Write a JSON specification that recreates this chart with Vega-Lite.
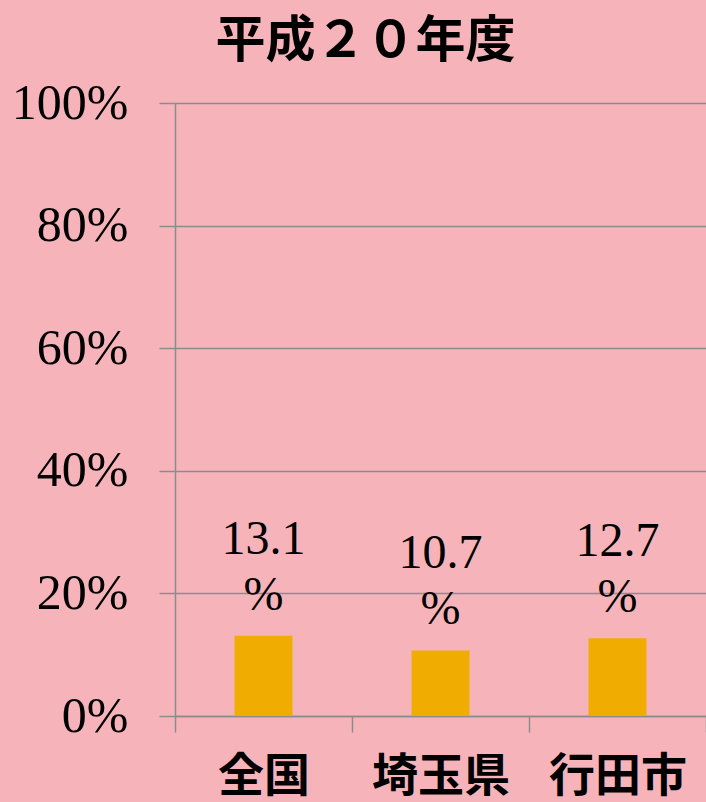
{
  "$schema": "https://vega.github.io/schema/vega-lite/v6.json",
  "width": 531,
  "height": 613,
  "autosize": {"type": "none"},
  "padding": {"left": 175, "top": 103, "right": 0, "bottom": 86},
  "background": "#F6B4BA",
  "title": {
    "text": "平成２０年度",
    "font": "Noto Sans CJK JP",
    "fontSize": 50,
    "fontWeight": "bold",
    "color": "#000000",
    "anchor": "middle",
    "baseline": "bottom",
    "dx": -75,
    "dy": 39,
    "offset": 0
  },
  "config": {
    "view": {"stroke": null},
    "axis": {"domainColor": "#8C8C8C", "tickColor": "#8C8C8C", "gridColor": "#8C8C8C", "domainWidth": 1.5, "tickWidth": 1.5, "gridWidth": 1.5}
  },
  "data": {
    "values": [
      {"region": "全国", "value": 13.1, "label": "13.1\n%"},
      {"region": "埼玉県", "value": 10.7, "label": "10.7\n%"},
      {"region": "行田市", "value": 12.7, "label": "12.7\n%"}
    ]
  },
  "encoding": {
    "x": {
      "field": "region",
      "type": "nominal",
      "sort": null,
      "scale": {"paddingInner": 0, "paddingOuter": 0},
      "axis": {
        "title": null,
        "labelAngle": 0,
        "labelFont": "Noto Sans CJK JP",
        "labelFontSize": 46,
        "labelFontWeight": "bold",
        "labelColor": "#000000",
        "labelPadding": 22,
        "tickSize": 16,
        "tickBand": "extent",
        "grid": false
      }
    },
    "y": {
      "field": "value",
      "type": "quantitative",
      "scale": {"domain": [0, 100]},
      "axis": {
        "title": null,
        "values": [0, 20, 40, 60, 80, 100],
        "labelExpr": "datum.value + '%'",
        "labelFont": "Liberation Serif",
        "labelFontSize": 50,
        "labelColor": "#000000",
        "labelPadding": 31,
        "tickSize": 16,
        "grid": true
      }
    }
  },
  "layer": [
    {"mark": {"type": "bar", "width": 58, "color": "#F0AC00"}},
    {
      "mark": {"type": "text", "lineBreak": "\n", "baseline": "bottom", "dy": -72, "font": "Liberation Serif", "fontSize": 48, "lineHeight": 56, "color": "#000000"},
      "encoding": {"text": {"field": "label"}}
    }
  ]
}
